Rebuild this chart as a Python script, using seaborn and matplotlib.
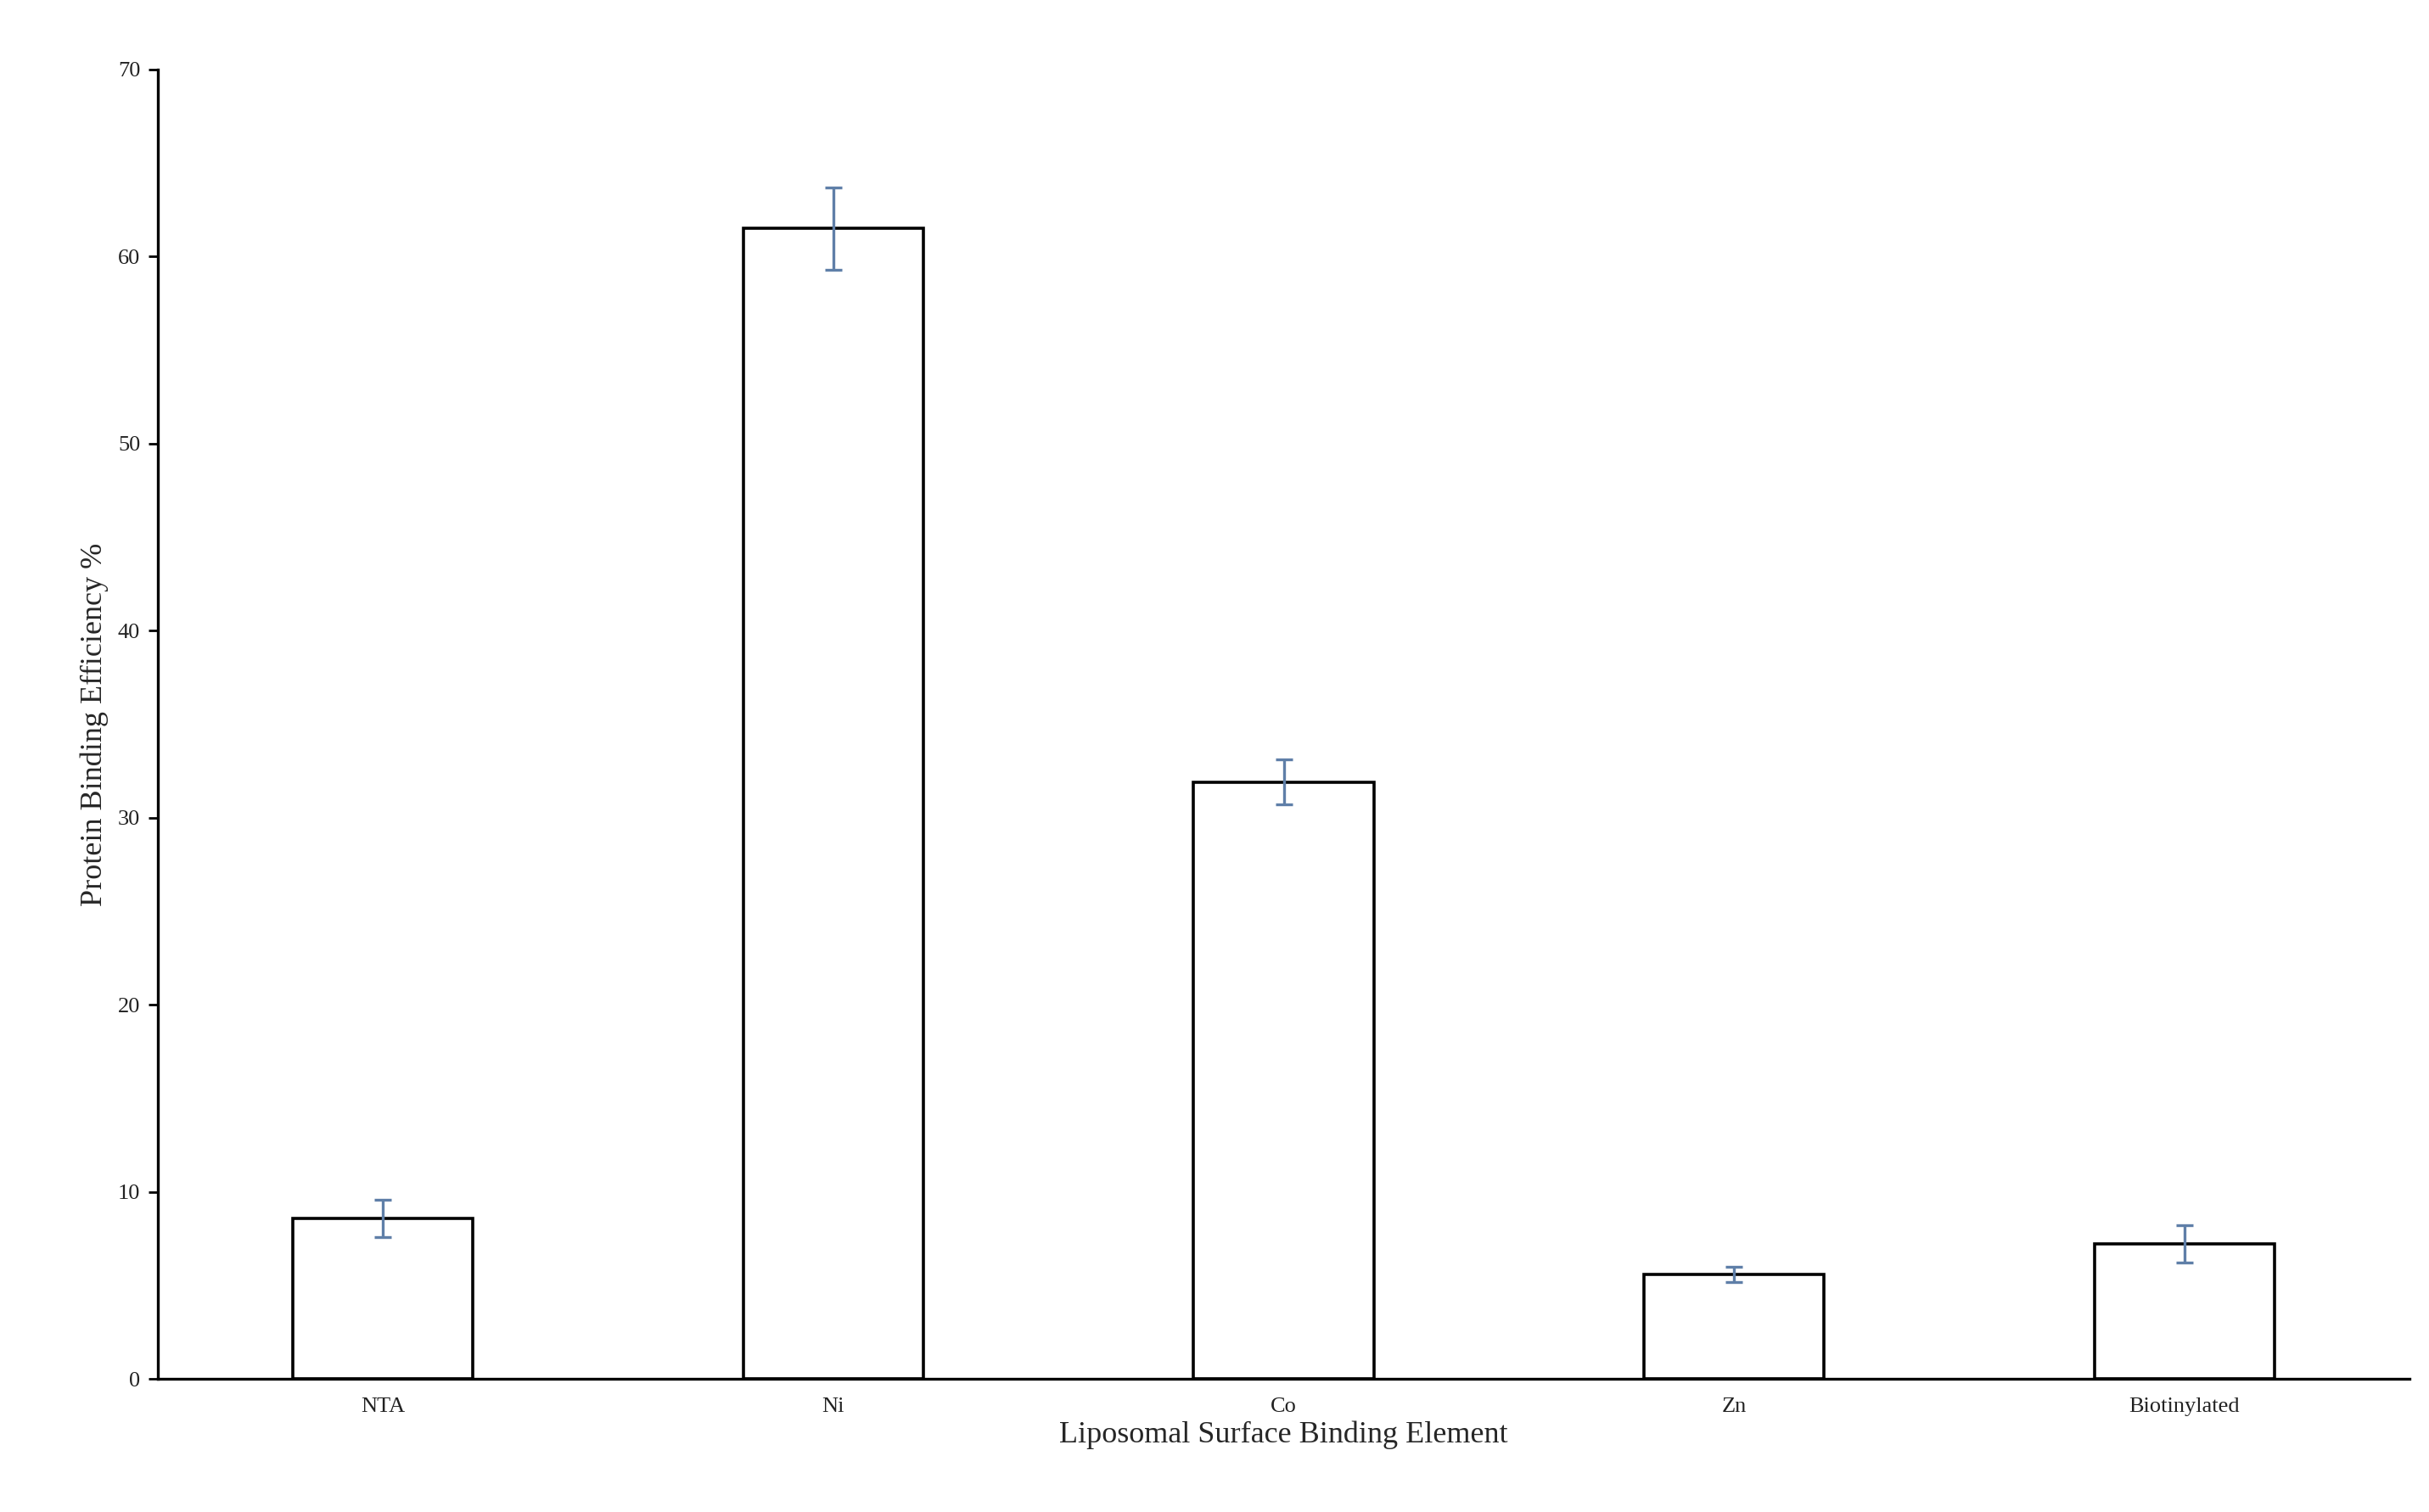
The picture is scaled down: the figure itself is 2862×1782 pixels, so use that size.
import matplotlib
matplotlib.use('Agg')
import matplotlib.pyplot as plt
import seaborn as sns
import pandas as pd

elements = ['NTA', 'Ni', 'Co', 'Zn', 'Biotinylated']
efficiency = [8.6, 61.5, 31.9, 5.6, 7.2]
errors = [1.0, 2.2, 1.2, 0.4, 1.0]

df = pd.DataFrame({'element': elements, 'efficiency': efficiency})

sns.set_style('white')
plt.rcParams['font.family'] = ['Liberation Serif', 'DejaVu Serif']

fig = plt.figure(figsize=(14.31, 8.91), dpi=200)
ax = fig.add_axes([0.065, 0.088, 0.927, 0.866])

sns.barplot(data=df, x='element', y='efficiency', color='white',
            edgecolor='black', linewidth=1.3, width=0.4, ax=ax)

# error bars
ax.errorbar(range(len(elements)), efficiency, yerr=errors, fmt='none',
            ecolor='#5f7fa8', elinewidth=1.2, capsize=3.5, capthick=1.2)

ax.set_ylim(0, 70)
ax.set_yticks(range(0, 71, 10))
ax.set_xlim(-0.5, 4.5)
ax.set_xlabel('Liposomal Surface Binding Element', fontsize=13, labelpad=2)
ax.set_ylabel('Protein Binding Efficiency %', fontsize=13)
ax.tick_params(axis='both', labelsize=9.5, colors='#222222')
ax.tick_params(axis='y', direction='out', length=4, width=1, left=True, color='black')
ax.tick_params(axis='x', length=0, pad=8)

for s in ['top', 'right']:
    ax.spines[s].set_visible(False)
for s in ['left', 'bottom']:
    ax.spines[s].set_color('black')
    ax.spines[s].set_linewidth(1.2)

fig.savefig('out.png', dpi=200)
